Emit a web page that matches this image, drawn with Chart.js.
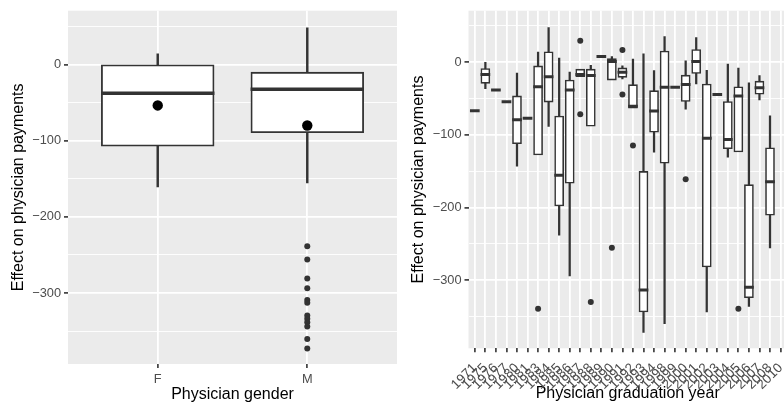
<!DOCTYPE html>
<html>
<head>
<meta charset="utf-8">
<script src="https://cdn.jsdelivr.net/npm/chart.js@4.4.1/dist/chart.umd.min.js"></script>
<style>
  html, body { margin: 0; padding: 0; background: #fff; overflow: hidden; }
  #genderChart { position: absolute; left: 0; top: 0; }
  #yearChart { position: absolute; left: 400px; top: 0; }
</style>
</head>
<body>
<canvas id="genderChart" width="400" height="407"></canvas>
<canvas id="yearChart" width="400" height="407"></canvas>
<script>
// ---- left panel: by gender ----
const genderCats = ['F', 'M'];
const genderLow  = [-160.6, -155.4];
const genderQ1   = [-106.5, -88.8];
const genderMed  = [-37.7, -32.5];
const genderQ3   = [0, -10.9];
const genderHigh = [13.8, 48];
const genderMean = [-53.8, -80.1];
const genderOutCat = ['M', 'M', 'M', 'M', 'M', 'M', 'M', 'M', 'M', 'M', 'M', 'M'];
const genderOutVal = [-238.6, -255.8, -281, -293.5, -309, -312.6, -329.5, -333.8, -338.2, -343.7, -360.2, -372.7];

// ---- right panel: by graduation year ----
const years = ['1971', '1975', '1976', '1977', '1980', '1981', '1983', '1984', '1985', '1986',
               '1987', '1988', '1989', '1990', '1991', '1992', '1993', '1994', '1998', '1999',
               '2000', '2001', '2002', '2003', '2004', '2005', '2006', '2007', '2008', '2010'];
const yearLow  = [-67, -36.7, -38.5, -54.4, -143.3, -77.1, -127, -88.4, -238, -293.9,
                  -19.5, -87.5, 7.7, -24.1, -23.1, -62.6, -371.8, -123.8, -359.6, -34.5,
                  -64.9, -29.9, -343.7, -44.5, -130.6, -122.9, -336.1, -52.1, -255.4, null];
const yearQ1   = [-67, -28.6, -38.5, -54.4, -111.6, -77.1, -127, -54.4, -197.3, -166,
                  -19.5, -87.5, 7.7, -24.1, -20.4, -62.6, -342.9, -95.7, -138.4, -34.5,
                  -53.5, -15, -281.2, -44.5, -118.4, -122.9, -323.4, -43.5, -209.9, null];
const yearMed  = [-67, -17.2, -38.5, -54.4, -79.4, -77.1, -34, -20, -155.5, -38.5,
                  -17.2, -18.6, 7.7, 0.9, -14, -60.8, -313.4, -67.1, -34.5, -34.5,
                  -30.8, 0.9, -104.8, -44.5, -106.5, -46.7, -309.8, -35.4, -164.6, null];
const yearQ3   = [-67, -9.5, -38.5, -54.4, -47.2, -77.1, -5.9, 13.6, -74.8, -25.4,
                  -10.4, -10.4, 7.7, 4.1, -8.6, -31.7, -151, -39.9, 14.6, -34.5,
                  -18.6, 16.7, -30.8, -44.5, -54.8, -34.5, -169.2, -26.8, -118.4, null];
const yearHigh = [-67, -0.5, -38.5, -54.4, -15, -77.1, 13.6, 47.6, 5.4, -13.6,
                  -10.4, -4.5, 7.7, 7.7, -5, 4.1, 11.3, -11.8, 35, -34.5,
                  1.8, 33.6, -11.3, -44.5, -2.7, -8.2, -28.6, -18.6, -73.9, null];
const yearOutCat = ['1983', '1987', '1987', '1988', '1990', '1991', '1991', '1992', '2000', '2005'];
const yearOutVal = [-339.2, 29.5, -71.7, -330, -255.4, 16.7, -44.5, -114.7, -161, -339.2];

const yMajor = [-300, -200, -100, 0];
const yMinor = [-350, -250, -150, -50, 50];

const FONT = "'Liberation Sans', Arial, Helvetica, sans-serif";

const panelBg = {
    id: 'panelBg',
    beforeDraw(chart) {
        const { ctx, chartArea: a } = chart;
        ctx.save();
        ctx.fillStyle = '#ebebeb';
        ctx.fillRect(a.left, a.top, a.right - a.left, a.bottom - a.top);
        ctx.restore();
    }
};

function fmt(v) {
    return v < 0 ? '\u2212' + Math.abs(v) : String(v);
}

function buildBoxChart(canvasId, cats, low, q1, med, q3, high, mean, outCat, outVal, cfg) {
    const pos = cats.map((_, i) => i + 1);
    const keep = pos.filter((_, i) => med[i] !== null);

    const datasets = [
        {
            type: 'bar',
            data: keep.map(x => ({ x: x, y: [low[x - 1], high[x - 1]] })),
            backgroundColor: '#333333',
            borderWidth: 0,
            barThickness: cfg.whiskerW,
            grouped: false,
            order: 4
        },
        {
            type: 'bar',
            data: keep.map(x => ({ x: x, y: [q1[x - 1], q3[x - 1]] })),
            backgroundColor: '#ffffff',
            borderColor: '#333333',
            borderWidth: cfg.boxBorder,
            borderSkipped: false,
            inflateAmount: cfg.boxBorder / 2,
            barThickness: cfg.boxW,
            grouped: false,
            order: 3
        },
        {
            type: 'line',
            showLine: false,
            data: keep.map(x => ({ x: x, y: med[x - 1] })),
            pointStyle: 'line',
            pointRadius: cfg.boxW / 2 + cfg.boxBorder / 2,
            pointBorderColor: '#333333',
            pointBorderWidth: cfg.medW,
            order: 2
        },
        {
            type: 'line',
            showLine: false,
            data: outCat.map((c, i) => ({ x: cats.indexOf(c) + 1, y: outVal[i] })),
            pointRadius: cfg.outR,
            pointBackgroundColor: '#333333',
            pointBorderWidth: 0,
            order: 1
        }
    ];
    if (mean) {
        datasets.push({
            type: 'line',
            showLine: false,
            data: pos.map(x => ({ x: x, y: mean[x - 1] })),
            pointRadius: 5.2,
            pointBackgroundColor: '#000000',
            pointBorderWidth: 0,
            order: 0
        });
    }

    const isMajor = v => yMajor.includes(v);

    return new Chart(document.getElementById(canvasId), {
        type: 'bar',
        data: { datasets: datasets },
        plugins: [panelBg],
        options: {
            responsive: false,
            animation: false,
            layout: {
                autoPadding: false,
                padding: { top: cfg.top, right: cfg.right, left: 0, bottom: 0 }
            },
            plugins: { legend: { display: false }, tooltip: { enabled: false } },
            scales: {
                x: {
                    type: 'linear',
                    bounds: 'data',
                    offset: false,
                    min: 0.4,
                    max: cats.length + 0.6,
                    afterBuildTicks: s => { s.ticks = pos.map(v => ({ value: v })); },
                    afterFit: s => { s.height = cfg.xAxisH; },
                    border: { display: false },
                    grid: {
                        offset: false,
                        color: '#ffffff',
                        lineWidth: 1.8,
                        tickColor: '#333333',
                        tickWidth: 1.6,
                        tickLength: 4
                    },
                    ticks: {
                        autoSkip: false,
                        maxRotation: cfg.rot,
                        minRotation: cfg.rot,
                        padding: cfg.xTickPad,
                        color: '#4d4d4d',
                        font: { family: FONT, size: cfg.xTickSize },
                        callback: v => cats[v - 1]
                    },
                    title: {
                        display: true,
                        text: cfg.xTitle,
                        color: '#000000',
                        font: { family: FONT, size: 16 },
                        padding: { top: 0, bottom: cfg.xTitlePad }
                    }
                },
                y: {
                    type: 'linear',
                    bounds: 'data',
                    min: cfg.yMin,
                    max: cfg.yMax,
                    afterBuildTicks: s => {
                        s.ticks = yMajor.concat(yMinor).sort((a, b) => a - b).map(v => ({ value: v }));
                    },
                    afterFit: s => { s.width = cfg.yAxisW; },
                    border: { display: false },
                    grid: {
                        color: '#ffffff',
                        lineWidth: c => (c.tick && isMajor(c.tick.value)) ? 1.8 : 0.9,
                        tickColor: c => (c.tick && isMajor(c.tick.value)) ? '#333333' : 'rgba(0,0,0,0)',
                        tickWidth: 1.6,
                        tickLength: 4
                    },
                    ticks: {
                        padding: 3,
                        color: '#4d4d4d',
                        font: { family: FONT, size: 12.8 },
                        callback: v => isMajor(v) ? fmt(v) : ''
                    },
                    title: {
                        display: true,
                        text: 'Effect on physician payments',
                        color: '#000000',
                        font: { family: FONT, size: 16 },
                        padding: { top: 9, bottom: 0 }
                    }
                }
            }
        }
    });
}

buildBoxChart('genderChart', genderCats, genderLow, genderQ1, genderMed, genderQ3, genderHigh,
    genderMean, genderOutCat, genderOutVal, {
        boxW: 111.6, whiskerW: 1.8, boxBorder: 1.8, medW: 3.5, outR: 3,
        top: 7, right: 3, xAxisH: 43, yAxisW: 68, yMin: -393, yMax: 70.5,
        rot: 0, xTickPad: 4, xTickSize: 12.8, xTitle: 'Physician gender', xTitlePad: 3
    });

buildBoxChart('yearChart', years, yearLow, yearQ1, yearMed, yearQ3, yearHigh,
    null, yearOutCat, yearOutVal, {
        boxW: 8.1, whiskerW: 1.6, boxBorder: 1.6, medW: 3, outR: 3,
        top: 7, right: 4, xAxisH: 58.7, yAxisW: 68.5, yMin: -393.6, yMax: 70.7,
        rot: 45, xTickPad: 8, xTickSize: 13.4, xTitle: 'Physician graduation year', xTitlePad: 4
    });
</script>
</body>
</html>
